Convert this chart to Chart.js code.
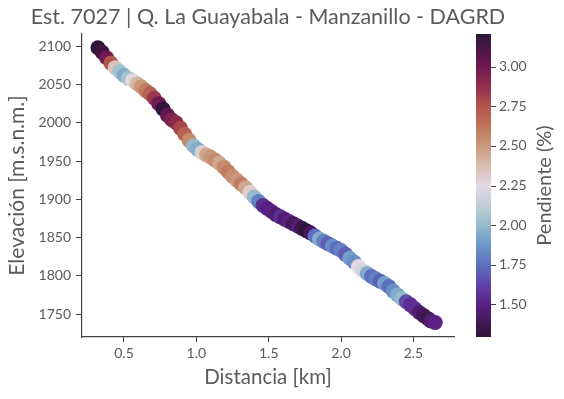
<!DOCTYPE html>
<html>
<head>
<meta charset="utf-8">
<script src="https://cdn.jsdelivr.net/npm/chart.js@4"></script>
<style>
  body { margin: 0; background: #fff; }
  canvas { display: block; }
</style>
</head>
<body>
<canvas id="perfil" width="564" height="399"></canvas>
<script>
const $ = id => document.getElementById(id);

const titulo = "Est. 7027 | Q. La Guayabala - Manzanillo - DAGRD";

const distancia = [
    0.32, 0.35, 0.38, 0.41, 0.44, 0.47, 0.50, 0.53, 0.56, 0.59,
    0.62, 0.65, 0.68, 0.71, 0.74, 0.77, 0.80, 0.83, 0.86, 0.89,
    0.92, 0.95, 0.98, 1.01, 1.04, 1.07, 1.10, 1.13, 1.16, 1.19,
    1.22, 1.25, 1.28, 1.31, 1.34, 1.37, 1.40, 1.43, 1.46, 1.49,
    1.52, 1.55, 1.58, 1.61, 1.64, 1.67, 1.70, 1.73, 1.76, 1.79,
    1.82, 1.85, 1.88, 1.91, 1.94, 1.97, 2.00, 2.03, 2.06, 2.09,
    2.12, 2.15, 2.18, 2.21, 2.24, 2.27, 2.30, 2.33, 2.36, 2.39,
    2.42, 2.45, 2.48, 2.51, 2.54, 2.57, 2.60, 2.62, 2.65
];

const elevacion = [
    2098, 2092, 2085, 2078, 2072, 2067, 2062, 2058, 2055, 2051,
    2047, 2042, 2038, 2032, 2025, 2018, 2010, 2004, 2000, 1993,
    1985, 1977, 1970, 1965, 1961, 1958, 1955, 1951, 1947, 1942,
    1936, 1930, 1925, 1920, 1915, 1909, 1903, 1897, 1892, 1888,
    1884, 1880, 1877, 1874, 1871, 1868, 1865, 1862, 1859, 1856,
    1852, 1848, 1845, 1842, 1839, 1836, 1833, 1828, 1823, 1818,
    1812, 1807, 1803, 1799, 1796, 1793, 1790, 1786, 1780, 1775,
    1770, 1766, 1762, 1757, 1752, 1748, 1744, 1741, 1739
];

const pendiente = [
    3.20, 3.15, 3.00, 2.75, 2.35, 2.05, 1.95, 2.05, 2.25, 2.40,
    2.50, 2.60, 2.70, 2.85, 3.00, 3.20, 3.05, 2.95, 2.90, 2.80,
    2.70, 2.55, 2.00, 1.95, 2.30, 2.45, 2.50, 2.55, 2.45, 2.55,
    2.60, 2.55, 2.50, 2.60, 2.45, 2.30, 2.00, 1.80, 1.55, 1.50,
    1.50, 1.45, 1.55, 1.45, 1.50, 1.40, 1.45, 1.35, 1.30, 1.40,
    1.75, 1.95, 1.80, 1.70, 1.85, 1.75, 1.80, 1.70, 1.90, 1.85,
    2.25, 2.20, 1.95, 1.75, 1.80, 1.70, 1.90, 1.75, 1.85, 1.95,
    2.00, 1.65, 1.55, 1.55, 1.45, 1.40, 1.35, 1.45, 1.50
];

const ticksX = [0.5, 1.0, 1.5, 2.0, 2.5];
const ticksY = [1750, 1800, 1850, 1900, 1950, 2000, 2050, 2100];
const ticksBarra = [1.50, 1.75, 2.00, 2.25, 2.50, 2.75, 3.00];
const rangoBarra = [1.295, 3.206];

// twilight_shifted aproximado: [t, r, g, b]
const mapaColor = [
    [0.000, 45, 22, 55],
    [0.055, 70, 25, 92],
    [0.107, 90, 32, 132],
    [0.173, 96, 68, 168],
    [0.238, 92, 112, 190],
    [0.303, 108, 152, 200],
    [0.369, 148, 186, 203],
    [0.434, 192, 207, 213],
    [0.500, 226, 216, 226],
    [0.565, 215, 190, 176],
    [0.631, 201, 152, 122],
    [0.696, 191, 118, 90],
    [0.761, 178, 84, 76],
    [0.827, 146, 46, 76],
    [0.892, 110, 26, 80],
    [0.945, 78, 22, 70],
    [1.000, 45, 22, 55]
];

function colorDe(v) {
    let t = (v - rangoBarra[0]) / (rangoBarra[1] - rangoBarra[0]);
    t = Math.max(0, Math.min(1, t));
    for (let i = 1; i < mapaColor.length; i++) {
        const a = mapaColor[i - 1], b = mapaColor[i];
        if (t <= b[0]) {
            const f = (t - a[0]) / (b[0] - a[0]);
            const c = [1, 2, 3].map(k => Math.round(a[k] + (b[k] - a[k]) * f));
            return `rgb(${c[0]},${c[1]},${c[2]})`;
        }
    }
    return "rgb(45,22,55)";
}

const FUENTE = "Lato, 'DejaVu Sans', sans-serif";
const GRIS = "#5a5a5a";
const EJE = "#444444";

const anotaciones = {
    id: "anotaciones",
    afterDraw(chart) {
        const ctx = chart.ctx;
        const area = chart.chartArea;
        ctx.save();

        // titulo
        ctx.fillStyle = GRIS;
        ctx.font = `21.5px ${FUENTE}`;
        ctx.textAlign = "center";
        ctx.textBaseline = "middle";
        ctx.fillText(titulo, (area.left + area.right) / 2, 17);

        // barra de color
        const bx = 476, bw = 15, top = area.top, bot = area.bottom;
        const h = bot - top;
        for (let i = 0; i < h; i++) {
            const v = rangoBarra[1] - (i + 0.5) / h * (rangoBarra[1] - rangoBarra[0]);
            ctx.fillStyle = colorDe(v);
            ctx.fillRect(bx, top + i, bw, 1);
        }
        ctx.strokeStyle = EJE;
        ctx.lineWidth = 1;
        ctx.fillStyle = GRIS;
        ctx.font = `14px ${FUENTE}`;
        ctx.textAlign = "left";
        ticksBarra.forEach(v => {
            const y = bot - (v - rangoBarra[0]) / (rangoBarra[1] - rangoBarra[0]) * h;
            ctx.beginPath();
            ctx.moveTo(bx + bw, Math.round(y) + 0.5);
            ctx.lineTo(bx + bw + 5, Math.round(y) + 0.5);
            ctx.stroke();
            ctx.fillText(v.toFixed(2), bx + bw + 8, y);
        });

        // etiqueta de la barra
        ctx.translate(545, (top + bot) / 2);
        ctx.rotate(-Math.PI / 2);
        ctx.font = `20px ${FUENTE}`;
        ctx.textAlign = "center";
        ctx.fillText("Pendiente (%)", 0, 0);
        ctx.restore();
    }
};

new Chart($("perfil"), {
    type: "scatter",
    data: {
        datasets: [{
            data: distancia.map((x, i) => ({ x, y: elevacion[i] })),
            pointRadius: 7.5,
            pointBorderWidth: 0,
            pointBackgroundColor: pendiente.map(colorDe)
        }]
    },
    options: {
        responsive: false,
        animation: false,
        devicePixelRatio: 1,
        events: [],
        layout: { padding: { top: 34, right: 110, bottom: 0, left: 0 } },
        plugins: {
            legend: { display: false },
            tooltip: { enabled: false }
        },
        scales: {
            x: {
                min: 0.21,
                max: 2.78,
                afterFit: s => { s.height = 62; },
                afterBuildTicks: s => { s.ticks = ticksX.map(value => ({ value })); },
                grid: { display: true, drawOnChartArea: false, tickLength: 5, color: EJE },
                border: { display: true, color: EJE, width: 1.2 },
                ticks: {
                    color: GRIS, padding: 3, maxRotation: 0,
                    font: { family: FUENTE, size: 14 },
                    callback: v => v.toFixed(1)
                },
                title: {
                    display: true, text: "Distancia [km]", color: GRIS,
                    font: { family: FUENTE, size: 20.5 },
                    padding: { top: 0, bottom: 9 }
                }
            },
            y: {
                min: 1720,
                max: 2116,
                afterFit: s => { s.width = 82; },
                afterBuildTicks: s => { s.ticks = ticksY.map(value => ({ value })); },
                grid: { display: true, drawOnChartArea: false, tickLength: 6, color: EJE },
                border: { display: true, color: EJE, width: 1.2 },
                ticks: {
                    color: GRIS, padding: 5,
                    font: { family: FUENTE, size: 14 },
                    callback: v => String(v)
                },
                title: {
                    display: true, text: "Elevación [m.s.n.m.]", color: GRIS,
                    font: { family: FUENTE, size: 21 },
                    padding: { top: 5, bottom: 0 }
                }
            }
        }
    },
    plugins: [anotaciones]
});
</script>
</body>
</html>
